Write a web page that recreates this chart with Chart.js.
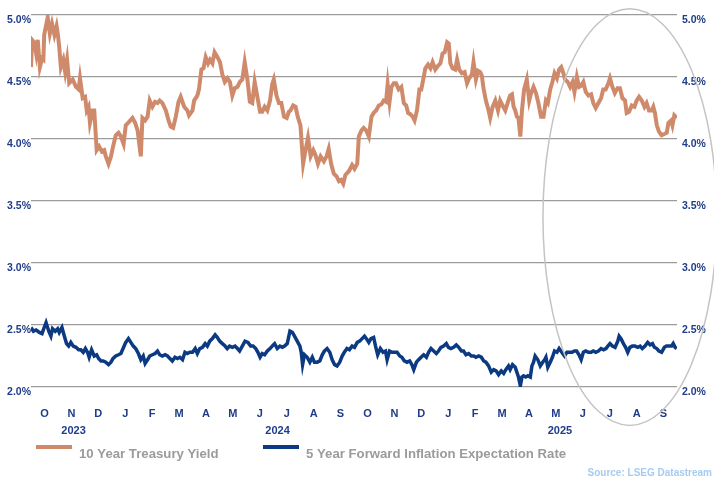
<!DOCTYPE html>
<html>
<head>
<meta charset="utf-8">
<script src="https://cdn.jsdelivr.net/npm/chart.js@4.4.1/dist/chart.umd.min.js"></script>
<style>
  html, body { margin: 0; padding: 0; background: #fff; }
  #wrap { position: relative; width: 714px; height: 477px; }
</style>
</head>
<body>
<div id="wrap"><canvas id="yieldChart"></canvas></div>
<script>
// months since 1 Oct 2023 (x) and yield in % (y)
const treasuryMonths = [0.00,0.04,0.12,0.19,0.25,0.33,0.41,0.46,0.49,0.62,0.70,0.78,0.87,0.95,1.00,1.05,1.11,1.20,1.27,1.34,1.42,1.55,1.67,1.77,1.82,1.92,2.01,2.07,2.14,2.19,2.29,2.35,2.44,2.53,2.63,2.72,2.78,2.88,2.97,3.05,3.15,3.25,3.34,3.44,3.52,3.65,3.77,3.87,3.96,4.08,4.14,4.24,4.33,4.41,4.51,4.61,4.70,4.78,4.88,5.01,5.11,5.19,5.28,5.38,5.48,5.56,5.69,5.81,5.87,6.00,
  6.06,6.18,6.24,6.33,6.41,6.49,6.58,6.65,6.74,6.82,6.93,7.02,7.11,7.20,7.30,7.39,7.48,7.57,7.67,7.76,7.85,7.94,8.04,8.13,8.22,8.31,8.41,8.51,8.59,8.68,8.78,8.88,8.96,9.02,9.12,9.21,9.30,9.40,9.50,9.58,9.64,9.74,9.83,9.91,10.01,10.11,10.20,10.29,10.39,10.49,10.57,10.66,10.76,10.88,10.98,11.06,11.15,11.25,11.35,11.44,11.52,11.60,11.68,11.81,11.93,12.02,12.12,
  12.18,12.28,12.36,12.45,12.55,12.65,12.73,12.82,12.92,13.02,13.10,13.19,13.25,13.32,13.39,13.48,13.56,13.66,13.76,13.85,13.94,14.01,14.09,14.18,14.25,14.34,14.43,14.50,14.59,14.65,14.75,14.84,14.92,15.02,15.12,15.21,15.29,15.37,15.46,15.52,15.58,15.66,15.76,15.83,15.91,16.01,16.11,16.20,16.28,16.38,16.44,16.53,16.61,16.69,16.75,16.81,16.90,17.00,17.06,17.15,17.25,17.35,17.43,17.52,17.62,17.72,17.80,17.87,17.93,17.99,18.05,18.11,18.18,18.24,
  18.32,18.42,18.51,18.58,18.67,18.76,18.85,18.95,19.04,19.13,19.20,19.29,19.37,19.45,19.54,19.62,19.70,19.78,19.84,19.94,20.03,20.12,20.19,20.28,20.36,20.44,20.52,20.61,20.71,20.81,20.89,20.98,21.08,21.18,21.26,21.35,21.45,21.51,21.60,21.69,21.79,21.88,21.97,22.07,22.13,22.22,22.32,22.42,22.50,22.59,22.69,22.79,22.87,22.96,23.06,23.12,23.18,23.25,23.33,23.43,23.53,23.62,23.68,23.78,23.83,23.90,23.99];
const treasuryYield = [4.58,4.80,4.78,4.69,4.80,4.58,4.65,4.64,4.84,4.98,4.85,4.93,4.84,4.91,4.84,4.74,4.58,4.64,4.54,4.64,4.45,4.48,4.42,4.40,4.49,4.33,4.34,4.23,4.26,4.13,4.23,4.23,3.91,3.94,3.90,3.91,3.86,3.80,3.86,3.94,4.03,4.05,4.02,3.96,4.11,4.14,4.17,4.13,4.07,3.86,4.17,4.15,4.18,4.31,4.26,4.30,4.29,4.31,4.29,4.23,4.15,4.10,4.09,4.18,4.30,4.34,4.26,4.23,4.19,4.23,
  4.31,4.35,4.40,4.56,4.57,4.66,4.61,4.64,4.61,4.70,4.66,4.62,4.52,4.46,4.49,4.46,4.35,4.41,4.42,4.46,4.48,4.62,4.48,4.30,4.29,4.46,4.34,4.22,4.22,4.26,4.23,4.31,4.44,4.48,4.35,4.29,4.29,4.18,4.17,4.22,4.23,4.27,4.26,4.18,4.11,3.80,3.91,4.01,3.86,3.91,3.87,3.80,3.86,3.82,3.86,3.92,3.80,3.72,3.70,3.66,3.67,3.64,3.71,3.74,3.79,3.76,3.80,
  4.02,4.07,4.09,4.07,4.02,4.18,4.21,4.23,4.27,4.28,4.31,4.30,4.44,4.30,4.42,4.45,4.45,4.40,4.42,4.29,4.27,4.21,4.20,4.18,4.15,4.23,4.40,4.40,4.50,4.57,4.60,4.57,4.62,4.56,4.59,4.61,4.69,4.70,4.78,4.77,4.61,4.57,4.56,4.64,4.56,4.53,4.54,4.45,4.49,4.52,4.62,4.48,4.55,4.54,4.51,4.41,4.31,4.23,4.17,4.26,4.31,4.23,4.31,4.27,4.23,4.30,4.35,4.36,4.26,4.23,4.18,4.17,4.02,4.23,
  4.40,4.48,4.31,4.37,4.42,4.37,4.29,4.18,4.18,4.31,4.29,4.40,4.46,4.53,4.49,4.56,4.58,4.53,4.48,4.46,4.42,4.46,4.38,4.50,4.42,4.43,4.46,4.38,4.35,4.36,4.29,4.25,4.29,4.33,4.40,4.40,4.45,4.49,4.42,4.37,4.41,4.41,4.33,4.31,4.21,4.22,4.27,4.26,4.31,4.34,4.31,4.26,4.29,4.23,4.23,4.26,4.21,4.11,4.06,4.03,4.04,4.05,4.13,4.15,4.11,4.19,4.17];

const inflationMonths = [0.00,0.09,0.19,0.31,0.41,0.49,0.56,0.66,0.74,0.80,0.90,0.99,1.05,1.15,1.24,1.32,1.40,1.48,1.57,1.67,1.77,1.85,1.94,2.02,2.10,2.16,2.25,2.35,2.44,2.51,2.60,2.68,2.78,2.88,2.97,3.05,3.15,3.25,3.34,3.42,3.52,3.62,3.71,3.80,3.89,3.99,4.08,4.17,4.24,4.33,4.41,4.51,4.61,4.70,4.78,4.88,4.98,5.07,5.16,5.25,5.35,5.44,5.53,5.63,5.72,5.81,5.90,6.00,6.10,6.18,6.27,6.37,6.47,6.55,6.64,6.74,6.84,6.92,7.01,7.11,7.21,7.29,7.38,7.48,7.58,7.67,7.75,7.85,7.95,
  8.06,8.16,8.25,8.35,8.43,8.51,8.59,8.68,8.78,8.88,8.96,9.05,9.15,9.25,9.34,9.42,9.52,9.62,9.71,9.79,9.89,9.99,10.04,10.09,10.16,10.26,10.36,10.45,10.53,10.63,10.73,10.82,10.90,11.00,11.10,11.19,11.28,11.37,11.47,11.56,11.64,11.74,11.83,11.93,12.02,12.12,12.21,12.30,12.39,12.46,12.55,12.63,12.73,12.80,12.88,12.98,13.08,13.17,13.23,13.32,13.41,13.50,13.60,13.70,13.78,13.87,13.97,14.07,14.15,14.22,14.32,14.40,14.49,14.59,14.69,14.77,14.86,14.96,15.06,15.14,15.23,15.33,15.43,15.51,15.60,15.70,15.80,15.89,
  15.99,16.07,16.16,16.26,16.36,16.45,16.53,16.63,16.73,16.82,16.90,17.00,17.10,17.19,17.28,17.37,17.47,17.56,17.64,17.74,17.80,17.89,17.99,18.05,18.11,18.18,18.24,18.30,18.38,18.46,18.55,18.61,18.67,18.73,18.83,18.92,19.01,19.08,19.13,19.20,19.29,19.37,19.45,19.54,19.62,19.72,19.82,19.91,20.00,20.10,20.19,20.27,20.36,20.44,20.52,20.61,20.71,20.81,20.89,20.98,21.08,21.18,21.27,21.36,21.43,21.51,21.60,21.70,21.80,21.85,21.92,22.01,22.09,22.17,22.25,22.34,22.44,22.54,22.63,22.71,22.81,22.91,23.00,23.09,23.16,23.25,23.33,23.43,23.53,23.61,23.70,23.80,23.86,23.93,23.99];
const inflationRate = [2.48,2.45,2.46,2.44,2.43,2.48,2.52,2.45,2.41,2.47,2.45,2.47,2.44,2.48,2.41,2.35,2.33,2.36,2.33,2.32,2.30,2.30,2.28,2.31,2.28,2.24,2.30,2.25,2.26,2.23,2.21,2.21,2.20,2.18,2.20,2.23,2.25,2.26,2.27,2.31,2.36,2.39,2.36,2.33,2.31,2.27,2.22,2.25,2.19,2.22,2.25,2.26,2.27,2.29,2.26,2.25,2.26,2.25,2.23,2.21,2.24,2.23,2.24,2.22,2.28,2.27,2.28,2.28,2.31,2.27,2.31,2.32,2.35,2.33,2.37,2.39,2.42,2.40,2.37,2.35,2.33,2.31,2.33,2.32,2.33,2.31,2.29,2.33,2.37,
  2.36,2.33,2.33,2.31,2.28,2.24,2.27,2.26,2.29,2.31,2.33,2.35,2.31,2.33,2.32,2.33,2.35,2.45,2.44,2.41,2.37,2.33,2.28,2.18,2.26,2.24,2.20,2.24,2.20,2.20,2.21,2.26,2.29,2.31,2.28,2.22,2.18,2.17,2.20,2.25,2.28,2.31,2.30,2.33,2.32,2.36,2.37,2.39,2.41,2.39,2.36,2.39,2.40,2.33,2.26,2.31,2.28,2.29,2.22,2.29,2.28,2.28,2.28,2.25,2.24,2.21,2.20,2.21,2.18,2.14,2.20,2.22,2.24,2.26,2.24,2.28,2.31,2.29,2.27,2.29,2.32,2.33,2.35,2.32,2.31,2.32,2.34,2.32,
  2.29,2.29,2.26,2.27,2.25,2.25,2.24,2.25,2.24,2.21,2.20,2.17,2.12,2.14,2.13,2.10,2.13,2.11,2.14,2.17,2.14,2.18,2.16,2.12,2.08,2.01,2.08,2.09,2.08,2.09,2.08,2.17,2.20,2.25,2.22,2.17,2.20,2.22,2.24,2.16,2.20,2.24,2.29,2.28,2.31,2.28,2.25,2.28,2.28,2.28,2.29,2.29,2.26,2.22,2.28,2.29,2.28,2.28,2.29,2.28,2.29,2.31,2.30,2.31,2.33,2.35,2.33,2.32,2.37,2.41,2.39,2.35,2.32,2.28,2.32,2.33,2.33,2.32,2.33,2.31,2.33,2.36,2.34,2.35,2.32,2.31,2.29,2.28,2.32,2.33,2.33,2.33,2.35,2.32,2.31];

// month initials, one per month (label sits mid-month)
const monthLabels = ['O','N','D','J','F','M','A','M','J','J','A','S','O','N','D','J','F','M','A','M','J','J','A','S'];
const monthTicks = monthLabels.map((m, i) => i + 0.5);
const yearLabels = ['2023', '2024', '2025'];
const yearLabelMonths = [1.58, 9.16, 19.65];

const seriesNames = ['10 Year Treasury Yield', '5 Year Forward Inflation Expectation Rate'];
const sourceText = 'Source: LSEG Datastream';

const FONT = "'Liberation Sans', Arial, sans-serif";
const AXIS_BLUE = '#1f3c88';
const ORANGE = '#cf8a6b';
const NAVY = '#0b3a82';

const toPoints = (xs, ys) => xs.map((x, i) => ({ x: x, y: ys[i] }));

// extra drawing: circled region, year row, legend, source line
const extrasPlugin = {
    id: 'extras',
    afterDraw(chart) {
        const ctx = chart.ctx;
        const xs = chart.scales.x;
        const ys = chart.scales.y;
        const area = chart.chartArea;
        ctx.save();

        // grey ellipse round the latest months
        const cx = xs.getPixelForValue(22.25);
        const cy = ys.getPixelForValue(3.37);
        const rx = xs.getPixelForValue(3.23) - xs.getPixelForValue(0);
        const ry = ys.getPixelForValue(2.0) - ys.getPixelForValue(3.68);
        ctx.beginPath();
        ctx.ellipse(cx, cy, rx, ry, 0, 0, Math.PI * 2);
        ctx.strokeStyle = '#c4c4c4';
        ctx.lineWidth = 1.5;
        ctx.stroke();

        // year labels under the month row
        ctx.fillStyle = AXIS_BLUE;
        ctx.font = 'bold 11px ' + FONT;
        ctx.textAlign = 'center';
        ctx.textBaseline = 'middle';
        yearLabels.forEach((y, i) => {
            ctx.fillText(y, xs.getPixelForValue(yearLabelMonths[i]), area.bottom + 44);
        });

        // legend
        const legendY = area.bottom + 60;
        const colors = [ORANGE, NAVY];
        const starts = [36, 263];
        ctx.font = 'bold 13.2px ' + FONT;
        ctx.textAlign = 'left';
        seriesNames.forEach((name, i) => {
            ctx.beginPath();
            ctx.moveTo(starts[i], legendY);
            ctx.lineTo(starts[i] + 36, legendY);
            ctx.strokeStyle = colors[i];
            ctx.lineWidth = 4;
            ctx.stroke();
            ctx.fillStyle = '#9b9b9b';
            ctx.fillText(name, starts[i] + 43, legendY + 7);
        });

        // source note
        ctx.font = 'bold 10px ' + FONT;
        ctx.fillStyle = '#a6cbf0';
        ctx.textAlign = 'right';
        ctx.fillText(sourceText, 712, area.bottom + 86);
        ctx.restore();
    }
};

const yTicks = {
    stepSize: 0.5,
    color: AXIS_BLUE,
    font: { family: FONT, size: 10.5, weight: 'bold' },
    labelOffset: 5,
    callback: (v) => v.toFixed(1) + '%'
};

const ctx = document.getElementById('yieldChart').getContext('2d');
new Chart(ctx, {
    type: 'line',
    data: {
        datasets: [{
            label: seriesNames[0],
            data: toPoints(treasuryMonths, treasuryYield),
            borderColor: ORANGE,
            borderWidth: 4,
            pointRadius: 0,
            tension: 0
        }, {
            label: seriesNames[1],
            data: toPoints(inflationMonths, inflationRate),
            borderColor: NAVY,
            borderWidth: 3.5,
            pointRadius: 0,
            tension: 0
        }]
    },
    options: {
        responsive: true,
        maintainAspectRatio: false,
        animation: false,
        layout: { padding: { top: 15, left: 0, right: 0, bottom: 0 } },
        plugins: {
            legend: { display: false },
            tooltip: { enabled: false }
        },
        scales: {
            x: {
                type: 'linear',
                min: 0,
                max: 24,
                grid: { display: false },
                border: { display: false },
                afterBuildTicks: (axis) => { axis.ticks = monthTicks.map(v => ({ value: v })); },
                afterFit: (axis) => { axis.height = 90; },
                ticks: {
                    autoSkip: false,
                    maxRotation: 0,
                    padding: 12,
                    color: AXIS_BLUE,
                    font: { family: FONT, size: 11, weight: 'bold' },
                    callback: (v, i) => monthLabels[i]
                }
            },
            y: {
                position: 'left',
                min: 2,
                max: 5,
                afterFit: (axis) => { axis.width = 31; },
                grid: { color: '#9c9c9c', lineWidth: 1.3, drawTicks: false },
                border: { display: false },
                ticks: Object.assign({ padding: 0 }, yTicks)
            },
            y2: {
                position: 'right',
                min: 2,
                max: 5,
                afterFit: (axis) => { axis.width = 37; },
                grid: { display: false, drawTicks: false },
                border: { display: false },
                ticks: Object.assign({ padding: 5 }, yTicks)
            }
        }
    },
    plugins: [extrasPlugin]
});
</script>
</body>
</html>
